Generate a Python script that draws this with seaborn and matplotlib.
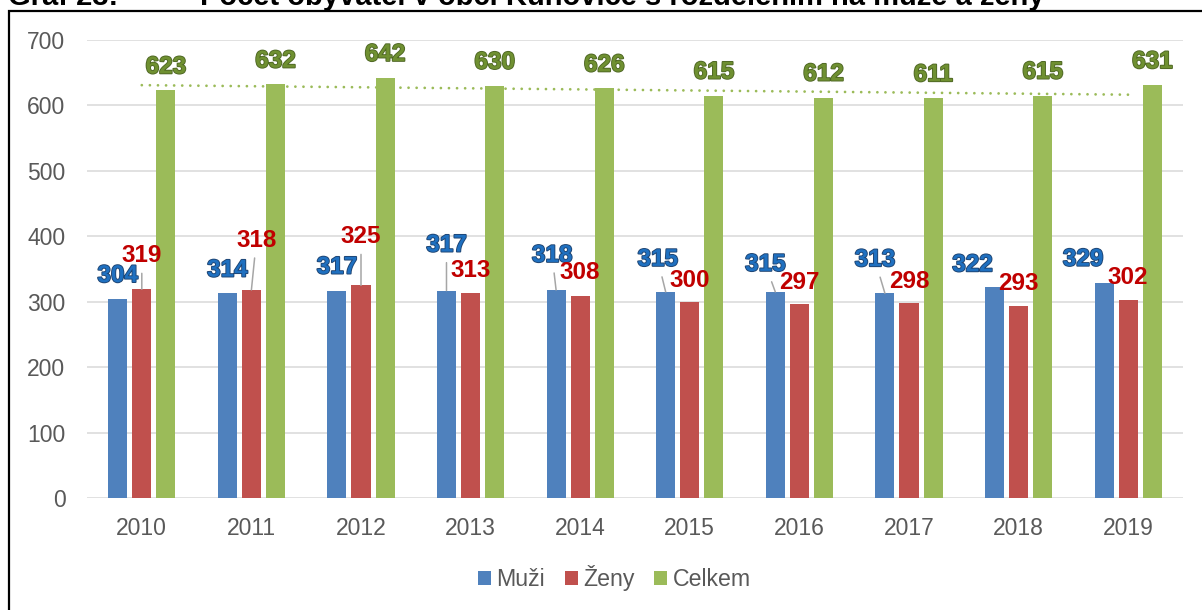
import numpy as np
import pandas as pd
import seaborn as sns
import matplotlib.pyplot as plt
from matplotlib import patheffects as pe
from matplotlib.patches import Rectangle

# --- data -------------------------------------------------------------
years = ["2010", "2011", "2012", "2013", "2014", "2015", "2016", "2017", "2018", "2019"]
muzi = [304, 314, 317, 317, 318, 315, 315, 313, 322, 329]
zeny = [319, 318, 325, 313, 308, 300, 297, 298, 293, 302]
celkem = [623, 632, 642, 630, 626, 615, 612, 611, 615, 631]
series_names = ["Muži", "Ženy", "Celkem"]
y_ticks = [0, 100, 200, 300, 400, 500, 600, 700]

title_num = "Graf 23:"
title_text = "Počet obyvatel v obci Kuňovice s rozdělením na muže a ženy"

# --- styling ----------------------------------------------------------
bar_colors = ["#4F81BD", "#C0504D", "#9BBB59"]
label_fill = ["#1F70C0", "#C00000", "#6F9031"]
label_edge = ["#1E4370", None, "#4E6624"]
text_grey = "#595959"

# label offsets (pixels) from the top centre of each bar, and leader-line flags
muzi_off = [(0, 26), (0, 25), (0, 26), (0, 48), (-4, 37), (-8, 35), (-10, 30), (-10, 36), (-22, 25), (-21, 26)]
zeny_off = [(0, 36), (5, 52), (0, 51), (0, 25), (0, 26), (0, 24), (0, 24), (0, 24), (0, 25), (0, 25)]
celkem_off = [(0, 26)] * 10
muzi_lead = [False, False, False, True, True, True, True, True, False, False]
zeny_lead = [True, True, True, False, False, False, False, False, False, False]
celkem_lead = [False] * 10

sns.set_theme(style="white")
plt.rcParams["font.family"] = ["Liberation Sans", "DejaVu Sans"]

W, H = 1202, 610
fig = plt.figure(figsize=(W / 100, H / 100), dpi=100)
ax = fig.add_axes([87 / W, 1 - 498 / H, 1096 / W, 458 / H])

df = pd.DataFrame({
    "rok": years * 3,
    "pocet": muzi + zeny + celkem,
    "skupina": [n for n in series_names for _ in years],
})

sns.barplot(data=df, x="rok", y="pocet", hue="skupina", hue_order=series_names,
            palette=bar_colors, width=0.66, gap=0.21, linewidth=0,
            saturation=1, errorbar=None, ax=ax)

ax.set_ylim(0, 700)
ax.set_xlim(-0.5, len(years) - 0.5)
ax.set_yticks(y_ticks)
ax.set_xlabel("")
ax.set_ylabel("")
ax.grid(axis="y", color="#D9D9D9", linewidth=1.1)
ax.set_axisbelow(True)
for s in ax.spines.values():
    s.set_visible(False)
ax.tick_params(axis="both", length=0, labelsize=16.5, labelcolor=text_grey)
ax.tick_params(axis="y", pad=15.5)
ax.tick_params(axis="x", pad=14)

# linear trend of the totals
xi = np.arange(len(years))
coef = np.polyfit(xi, celkem, 1)
ax.plot([xi[0], xi[-1]], np.polyval(coef, [xi[0], xi[-1]]), color="#9BBB59",
        linewidth=2.0, linestyle=(0, (0.01, 2.9)), dash_capstyle="round", zorder=3)

# value labels
all_vals = [muzi, zeny, celkem]
all_off = [muzi_off, zeny_off, celkem_off]
all_lead = [muzi_lead, zeny_lead, celkem_lead]
for k, cont in enumerate(ax.containers):
    effects = None
    if label_edge[k] is not None:
        effects = [pe.withStroke(linewidth=1.3, foreground=label_edge[k])]
    for bar, v, (dx, dy), lead in zip(cont.patches, all_vals[k], all_off[k], all_lead[k]):
        x = bar.get_x() + bar.get_width() / 2
        top = bar.get_height()
        kw = {}
        if lead:
            kw["arrowprops"] = dict(arrowstyle="-", color="#A6A6A6", lw=1.1,
                                    shrinkA=2, shrinkB=0)
        ax.annotate(f"{v}", xy=(x, top), xytext=(dx, dy), textcoords="offset pixels",
                    ha="center", va="center_baseline", fontsize=17.5, fontweight="bold",
                    color=label_fill[k], path_effects=effects, zorder=5, **kw)

# legend below the plot
handles, labels = ax.get_legend_handles_labels()
if ax.get_legend() is not None:
    ax.get_legend().remove()
fig.legend(handles, labels, loc="center", bbox_to_anchor=(614.5 / W, 1 - 578 / H),
           ncol=3, frameon=False, fontsize=16.7, handlelength=0.56, handleheight=0.56,
           handletextpad=0.22, columnspacing=0.86, labelcolor=text_grey, borderpad=0)

# caption above the chart frame
fig.text(8 / W, 1 - 5 / H, title_num, fontsize=21, fontweight="bold",
         va="baseline", ha="left", color="black")
fig.text(200 / W, 1 - 5 / H, title_text, fontsize=21, fontweight="bold",
         va="baseline", ha="left", color="black")

# chart frame
fig.add_artist(Rectangle((9 / W, -0.2), 1.2, 1.2 - 11 / H, transform=fig.transFigure,
                         fill=False, edgecolor="black", linewidth=1.6, clip_on=False))

fig.savefig("out.png", dpi=100)
